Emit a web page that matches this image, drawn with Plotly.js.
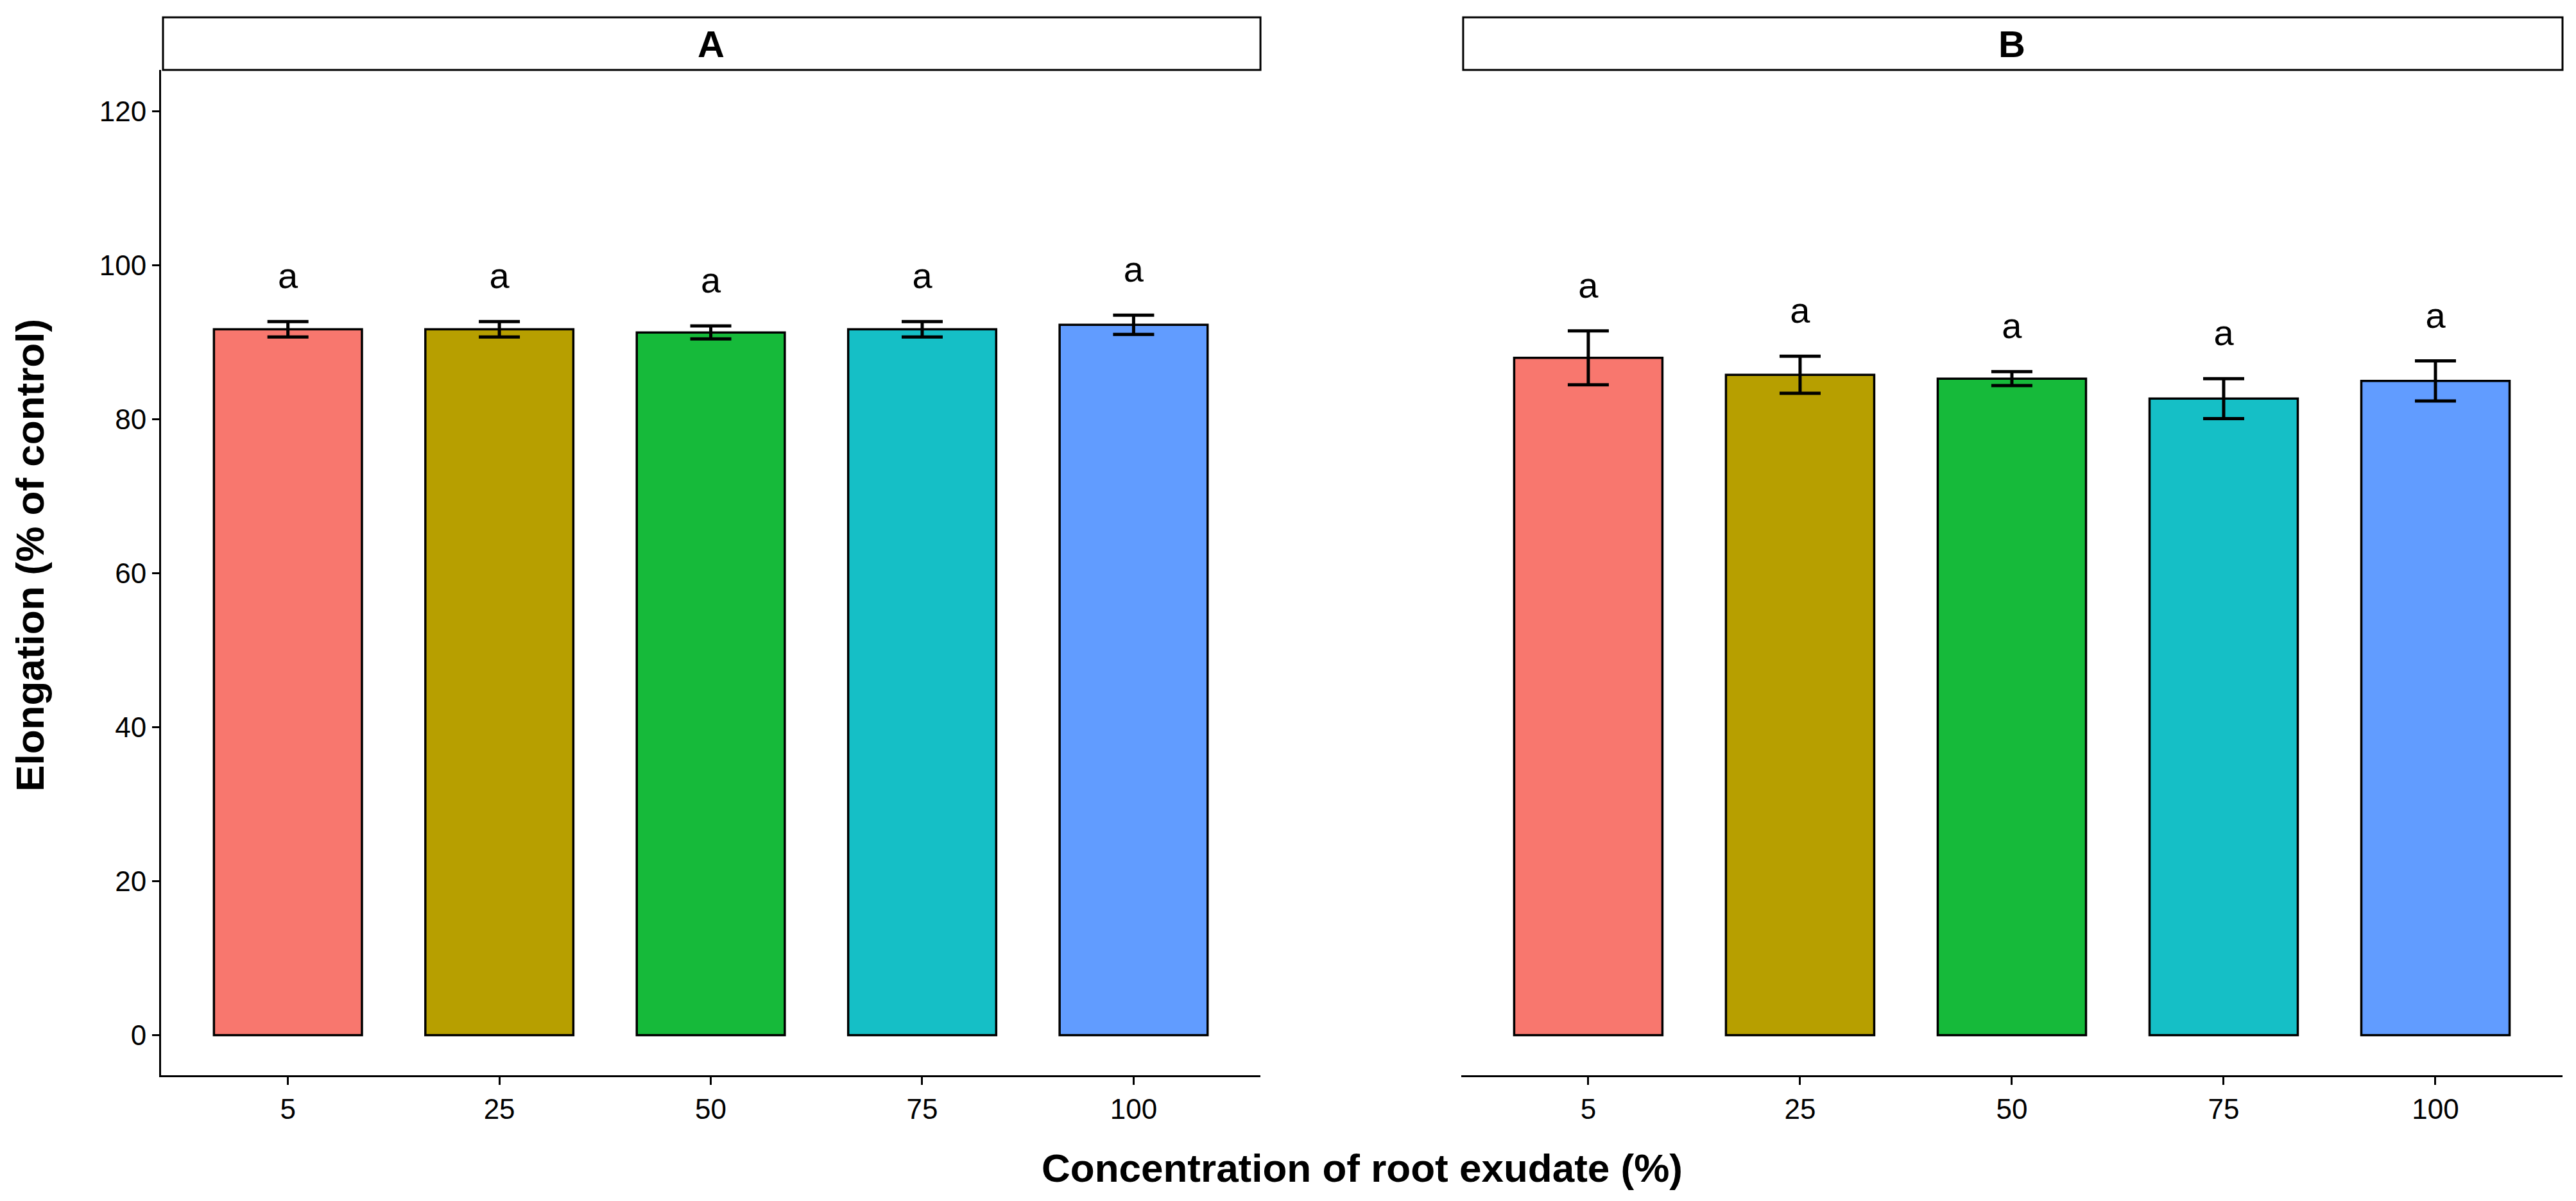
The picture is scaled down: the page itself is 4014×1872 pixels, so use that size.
<!DOCTYPE html>
<html>
<head>
<meta charset="utf-8">
<script src="https://cdn.plot.ly/plotly-3.0.1.min.js"></script>
<style>html,body{margin:0;padding:0;background:#fff;}#chart{width:4014px;height:1872px;}</style>
</head>
<body>
<div id="chart"></div>
<script>
// ---- data ----
const concentrations = ['5', '25', '50', '75', '100'];
const barColors = ['#F8776E', '#B79F00', '#16BA3A', '#15BFC6', '#619CFF'];
const meanA = [91.7, 91.7, 91.3, 91.7, 92.3];
const seA   = [1.0, 1.0, 0.85, 1.0, 1.25];
const letA  = ['a', 'a', 'a', 'a', 'a'];
const meanB = [88.0, 85.8, 85.3, 82.7, 85.0];
const seB   = [3.5, 2.4, 0.9, 2.6, 2.6];
const letB  = ['a', 'a', 'a', 'a', 'a'];
const panelNames = ['A', 'B'];
const yTicks = [0, 20, 40, 60, 80, 100, 120];

const FONT = 'Liberation Sans, Arial, Helvetica, sans-serif';
const labelGap = 5.5;

function barTrace(means, ses, xa) {
  return {
    type: 'bar', x: concentrations, y: means, xaxis: xa, yaxis: 'y',
    marker: {color: barColors, line: {color: '#000', width: 3.5}},
    error_y: {type: 'data', array: ses, visible: true, color: '#000', thickness: 5, width: 32},
    showlegend: false, hoverinfo: 'skip'
  };
}
function letterTrace(means, ses, lets, xa) {
  return {
    type: 'scatter', mode: 'text', x: concentrations,
    y: means.map((m, i) => m + ses[i] + labelGap),
    text: lets, textposition: 'middle center', xaxis: xa, yaxis: 'y',
    textfont: {family: FONT, size: 56, color: '#000'},
    showlegend: false, hoverinfo: 'skip', cliponaxis: false
  };
}

const traces = [
  barTrace(meanA, seA, 'x'), barTrace(meanB, seB, 'x2'),
  letterTrace(meanA, seA, letA, 'x'), letterTrace(meanB, seB, letB, 'x2')
];

const annotations = [];
const domA = [0, 0.4578];
const domB = [0.5414, 1];
const stripBottom = 1.0, stripTop = 1.0523;
const shapes = [domA, domB].map(d => ({
  type: 'rect', xref: 'paper', yref: 'paper', x0: d[0] + 0.0008, x1: d[1], y0: stripBottom, y1: stripTop,
  line: {color: '#000', width: 3}, fillcolor: '#fff', layer: 'above'
}));
[domA, domB].forEach((d, i) => annotations.push({
  x: (d[0] + d[1]) / 2, y: (stripBottom + stripTop) / 2, xref: 'paper', yref: 'paper',
  text: '<b>' + panelNames[i] + '</b>', showarrow: false, xanchor: 'center', yanchor: 'middle',
  font: {family: FONT, size: 58, color: '#000'}
}));
annotations.push({
  x: 0.5, y: -0.0919, xref: 'paper', yref: 'paper', showarrow: false,
  text: '<b>Concentration of root exudate (%)</b>', xanchor: 'center', yanchor: 'middle',
  font: {family: FONT, size: 62, color: '#000'}
});
annotations.push({
  x: -0.0545, y: 0.517, xref: 'paper', yref: 'paper', showarrow: false, textangle: -90,
  text: '<b>Elongation (% of control)</b>', xanchor: 'center', yanchor: 'middle',
  font: {family: FONT, size: 62, color: '#000'}
});

const xcommon = {
  type: 'category', range: [-0.6, 4.6], showline: true, linecolor: '#000', linewidth: 3,
  ticks: 'outside', ticklen: 12, tickwidth: 3, tickcolor: '#000', showgrid: false, zeroline: false,
  tickfont: {family: FONT, size: 44, color: '#000'}, anchor: 'y', fixedrange: true
};

const layout = {
  width: 4014, height: 1872,
  margin: {l: 251, r: 21, t: 109, b: 196, pad: 0},
  paper_bgcolor: '#fff', plot_bgcolor: '#fff',
  bargap: 0.3,
  xaxis: Object.assign({}, xcommon, {domain: domA}),
  xaxis2: Object.assign({}, xcommon, {domain: domB}),
  yaxis: {
    range: [-5.2, 125.4], tickvals: yTicks, ticktext: yTicks.map(String),
    showline: true, linecolor: '#000', linewidth: 3, ticks: 'outside', ticklen: 11, tickwidth: 3,
    tickcolor: '#000', showgrid: false, zeroline: false, anchor: 'x',
    tickfont: {family: FONT, size: 44, color: '#000'}, fixedrange: true
  },
  shapes: shapes,
  annotations: annotations
};

Plotly.newPlot('chart', traces, layout, {staticPlot: true, displayModeBar: false});
</script>
</body>
</html>
